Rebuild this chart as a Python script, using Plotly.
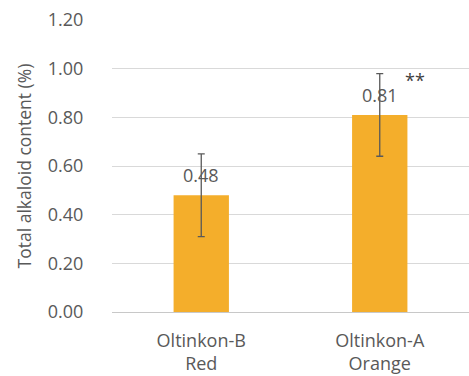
import plotly.graph_objects as go

categories = ["Oltinkon-B<br>Red", "Oltinkon-A<br>Orange"]
values = [0.48, 0.81]
errors = [0.17, 0.17]
labels = ["0.48", "0.81"]
y_ticks = [0, 0.2, 0.4, 0.6, 0.8, 1.0, 1.2]

font_family = "Open Sans, Liberation Sans, sans-serif"
txt = "#595959"

fig = go.Figure()
fig.add_trace(go.Bar(
    x=categories, y=values,
    marker=dict(color="#F4AE2B", line=dict(width=0)),
    width=0.31,
    error_y=dict(type="data", array=errors, visible=True, color="#595959", thickness=1.3, width=3.5),
    cliponaxis=False,
))

for c, v, t in zip(categories, values, labels):
    fig.add_annotation(x=c, y=v, text=t, showarrow=False, yshift=20,
                       font=dict(size=18, color=txt, family=font_family))

fig.add_annotation(x=categories[1], y=0.955, text="**", showarrow=False, xshift=35,
                   font=dict(size=18, color="#404040", family=font_family))

fig.update_layout(
    width=469, height=376,
    margin=dict(l=112, r=0, t=20, b=64),
    paper_bgcolor="white", plot_bgcolor="white",
    showlegend=False,
    bargap=0.69,
    font=dict(family=font_family, color=txt, size=18),
    yaxis=dict(
        range=[0, 1.2], tickvals=y_ticks, tickformat=".2f",
        showgrid=True, gridcolor="#D9D9D9", gridwidth=1.3,
        zeroline=True, zerolinecolor="#C8C8C8", zerolinewidth=1.3,
        ticks="outside", ticklen=24, tickcolor="rgba(0,0,0,0)",
        tickfont=dict(size=18, color=txt),
        title=dict(text="Total alkaloid content (%)", font=dict(size=17.5, color=txt), standoff=11),
    ),
    xaxis=dict(
        showgrid=False, showline=False,
        ticks="outside", ticklen=12, tickcolor="rgba(0,0,0,0)",
        tickfont=dict(size=18, color=txt),
    ),
)

fig.write_html("out.html")
